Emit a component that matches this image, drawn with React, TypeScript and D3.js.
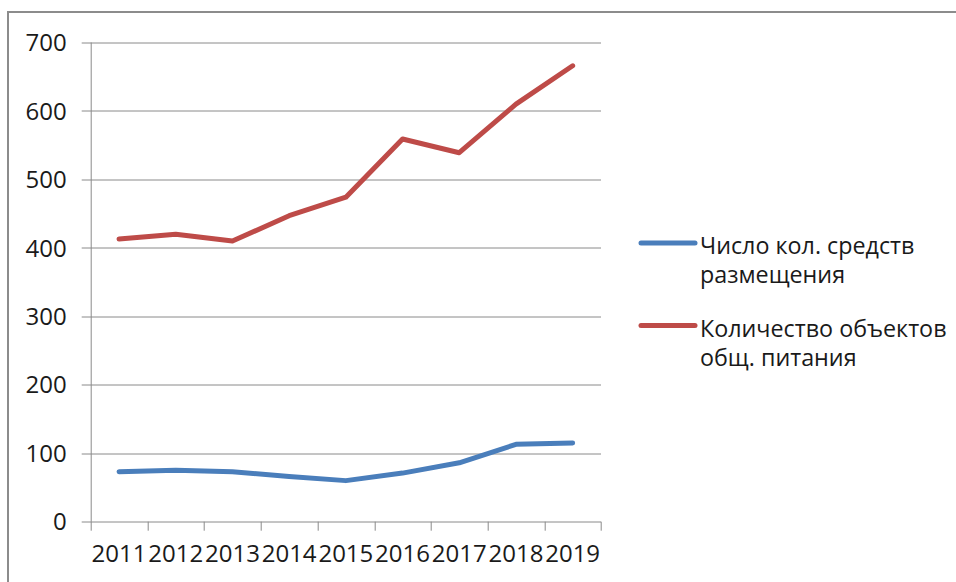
import React, { Component } from 'react';
import * as d3 from 'd3';

const years = ['2011', '2012', '2013', '2014', '2015', '2016', '2017', '2018', '2019'];
const lodgingCounts = [73, 75, 73, 66, 60, 71, 86, 113, 115];
const cateringCounts = [413, 420, 410, 447, 474, 559, 539, 610, 666];
const yTicks = [0, 100, 200, 300, 400, 500, 600, 700];
const seriesNames = [
    ['Число кол. средств', 'размещения'],
    ['Количество объектов', 'общ. питания']
];
const seriesColours = ['#4a7ebb', '#be4b48'];

export default class App extends Component {
    private canvas: any = React.createRef();
    private width = 956;
    private height = 582;
    private margin = { top: 42.5, right: 355, bottom: 60.3, left: 90.7 };

    componentDidMount() {
        this.buildChart();
    }

    buildChart = () => {
        const font = '"Open Sans", "Liberation Sans", sans-serif';
        const innerW = this.width - this.margin.left - this.margin.right;
        const innerH = this.height - this.margin.top - this.margin.bottom;

        const root = d3.select(this.canvas.current);
        root.selectAll('*').remove();

        const svg = root.append('svg')
            .attr('width', this.width)
            .attr('height', this.height)
            .style('display', 'block')
            .style('background', '#ffffff');

        // outer frame of the chart area
        svg.append('rect')
            .attr('x', 8)
            .attr('y', 12)
            .attr('width', 980)
            .attr('height', 620)
            .attr('fill', 'none')
            .attr('stroke', '#8c8c8c')
            .attr('stroke-width', 2);

        const g = svg.append('g')
            .attr('transform', 'translate(' + [this.margin.left, this.margin.top] + ')');

        const xScale = d3.scaleBand<string>()
            .domain(years)
            .range([0, innerW]);

        const yScale = d3.scaleLinear()
            .domain([0, 700])
            .range([innerH, 0]);

        // gridlines + tick stubs
        g.selectAll('.grid')
            .data(yTicks)
            .enter().append('line')
            .attr('class', 'grid')
            .attr('x1', -9)
            .attr('x2', innerW)
            .attr('y1', (d: number) => Math.round(yScale(d)) + 0.5)
            .attr('y2', (d: number) => Math.round(yScale(d)) + 0.5)
            .attr('stroke', '#8a8a8a')
            .attr('stroke-width', 1);

        g.selectAll('.yLabel')
            .data(yTicks)
            .enter().append('text')
            .attr('class', 'yLabel')
            .attr('x', -24)
            .attr('y', (d: number) => yScale(d))
            .attr('dy', '0.36em')
            .attr('text-anchor', 'end')
            .attr('font-family', font)
            .attr('font-size', 24)
            .attr('fill', '#1a1a1a')
            .text((d: number) => d);

        // y axis line
        g.append('line')
            .attr('x1', 0.5).attr('x2', 0.5)
            .attr('y1', 0).attr('y2', innerH)
            .attr('stroke', '#8a8a8a');

        // x ticks at band edges
        const edges = years.map(y => xScale(y) as number).concat([innerW]);
        g.selectAll('.xTick')
            .data(edges)
            .enter().append('line')
            .attr('class', 'xTick')
            .attr('x1', (d: number) => Math.round(d) + 0.5)
            .attr('x2', (d: number) => Math.round(d) + 0.5)
            .attr('y1', innerH)
            .attr('y2', innerH + 9)
            .attr('stroke', '#8a8a8a');

        g.selectAll('.xLabel')
            .data(years)
            .enter().append('text')
            .attr('class', 'xLabel')
            .attr('x', (d: string) => (xScale(d) as number) + xScale.bandwidth() / 2)
            .attr('y', innerH + 40)
            .attr('text-anchor', 'middle')
            .attr('font-family', font)
            .attr('font-size', 24)
            .attr('fill', '#1a1a1a')
            .text((d: string) => d);

        const line = d3.line<number>()
            .x((d: number, i: number) => (xScale(years[i]) as number) + xScale.bandwidth() / 2)
            .y((d: number) => yScale(d));

        [lodgingCounts, cateringCounts].forEach((values, i) => {
            g.append('path')
                .datum(values)
                .attr('d', line)
                .attr('fill', 'none')
                .attr('stroke', seriesColours[i])
                .attr('stroke-width', 5)
                .attr('stroke-linejoin', 'round')
                .attr('stroke-linecap', 'round');
        });

        // legend
        const legend = svg.append('g')
            .attr('transform', 'translate(641, 243)');

        seriesNames.forEach((lines, i) => {
            const item = legend.append('g')
                .attr('transform', 'translate(0,' + i * 82.5 + ')');
            item.append('line')
                .attr('x1', 0).attr('x2', 54)
                .attr('y1', 0).attr('y2', 0)
                .attr('stroke', seriesColours[i])
                .attr('stroke-width', 5)
                .attr('stroke-linecap', 'round');
            lines.forEach((t, j) => {
                item.append('text')
                    .attr('x', 59)
                    .attr('y', 11 + j * 29)
                    .attr('font-family', font)
                    .attr('font-size', 23.3)
                    .attr('fill', '#1a1a1a')
                    .text(t);
            });
        });
    }

    render() {
        return (
            <div style={{ position: 'absolute', left: 0, top: 0 }}>
                <div className="lineChart" ref={this.canvas}></div>
            </div>
        );
    }
}
